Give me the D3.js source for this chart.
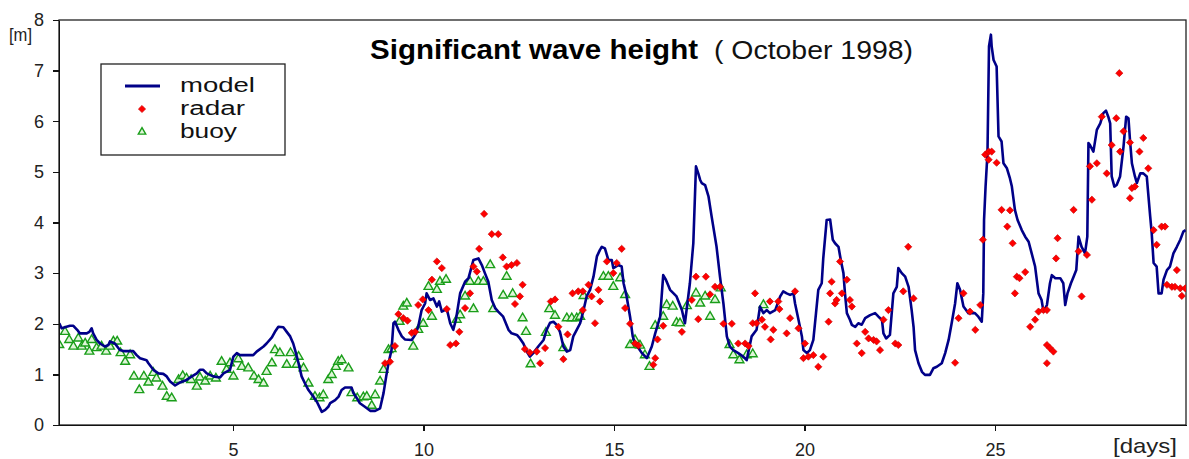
<!DOCTYPE html>
<meta charset="utf-8">
<head>
<style>
body { margin: 0; background: #fff; font-family: "Liberation Sans", Arial, sans-serif; }
.axis text { font: 18px "Liberation Sans", Arial, sans-serif; fill: #222; }
.axis path, .axis line { fill: none; stroke: #111; stroke-width: 1.4; shape-rendering: crispEdges; }
</style>
</head>
<body>
<script src="https://d3js.org/d3.v7.min.js"></script>
<script>

// model run, [day, Hs in m]
var model = [
  [0.44,2.01],[0.50,1.91],[0.72,1.96],[0.81,1.96],[0.91,1.88],[0.98,1.81],[1.16,1.81],[1.23,1.84],[1.29,1.91],[1.33,1.81],
  [1.42,1.68],[1.51,1.61],[1.64,1.55],[1.73,1.58],[1.77,1.65],[1.90,1.61],[2.03,1.48],[2.12,1.46],[2.38,1.46],[2.47,1.38],
  [2.56,1.32],[2.73,1.28],[2.78,1.22],[2.91,1.09],[3.04,1.02],[3.17,1.01],[3.26,0.96],[3.35,0.86],[3.48,0.78],[3.61,0.84],
  [3.78,0.89],[3.92,0.96],[4.05,1.02],[4.13,1.09],[4.22,1.09],[4.31,1.02],[4.48,0.96],[4.66,0.94],[4.75,1.02],[4.92,1.09],
  [5.01,1.35],[5.10,1.42],[5.18,1.38],[5.53,1.38],[5.62,1.45],[5.80,1.55],[5.88,1.61],[6.02,1.73],[6.10,1.84],[6.19,1.94],
  [6.32,1.93],[6.41,1.84],[6.50,1.75],[6.58,1.61],[6.63,1.48],[6.72,1.22],[6.80,0.96],[6.89,0.82],[6.98,0.69],[7.11,0.56],
  [7.20,0.46],[7.33,0.26],[7.42,0.30],[7.50,0.36],[7.55,0.43],[7.68,0.49],[7.77,0.56],[7.85,0.69],[7.94,0.74],[8.11,0.74],
  [8.16,0.63],[8.25,0.53],[8.33,0.43],[8.46,0.36],[8.60,0.28],[8.73,0.28],[8.86,0.33],
  [8.95,0.63],[9.02,0.96],[9.08,1.22],[9.16,1.48],[9.21,2.01],[9.25,2.04],[9.34,1.88],[9.43,1.75],[9.51,1.69],[9.69,1.68],
  [9.78,1.78],[9.86,1.94],[9.95,2.27],[10.04,2.40],[10.08,2.60],[10.17,2.47],[10.26,2.50],[10.35,2.34],[10.41,2.44],[10.48,2.24],
  [10.61,2.29],[10.70,2.01],[10.78,1.88],[10.85,2.08],[10.96,2.60],[11.09,2.83],[11.18,2.90],[11.31,3.26],[11.44,3.29],[11.53,3.16],
  [11.61,3.00],[11.70,2.83],[11.79,2.47],[11.88,2.31],[11.96,2.24],[12.09,2.14],[12.23,1.88],[12.31,1.81],[12.45,1.78],[12.53,1.71],
  [12.62,1.61],[12.71,1.45],[12.79,1.35],[12.88,1.42],[13.01,1.55],[13.15,1.68],[13.23,1.88],[13.32,2.02],[13.41,2.04],[13.49,1.98],
  [13.58,1.84],[13.67,1.55],[13.76,1.45],[13.85,1.48],[13.93,1.75],[14.02,1.88],[14.11,2.01],[14.20,2.27],[14.28,2.54],[14.37,2.67],
  [14.46,2.93],[14.55,3.33],[14.63,3.46],[14.68,3.52],[14.76,3.49],[14.85,3.26],[14.94,3.26],[14.98,3.10],[15.11,3.16],[15.20,3.13],
  [15.25,2.80],[15.33,2.54],[15.42,2.14],[15.49,1.75],[15.55,1.61],[15.64,1.52],[15.73,1.42],[15.86,1.32],[15.99,1.55],[16.08,1.81],
  [16.21,2.14],[16.29,2.96],[16.36,2.87],[16.47,2.67],[16.64,2.54],[16.78,2.27],[16.86,2.01],[16.99,2.80],[17.08,3.59],[17.15,5.11],
  [17.21,4.97],[17.26,4.84],[17.30,4.78],[17.39,4.74],[17.48,4.51],[17.56,4.12],[17.69,3.52],[17.78,2.93],[17.87,2.40],[17.96,1.75],
  [18.04,1.55],[18.13,1.48],[18.26,1.42],[18.39,1.35],[18.48,1.28],[18.61,1.75],[18.74,1.88],[18.83,2.34],[18.92,2.21],[19.01,2.27],
  [19.09,2.21],[19.23,2.27],[19.36,2.54],
  [19.44,2.64],[19.53,2.60],[19.62,2.57],[19.71,2.60],[19.75,2.40],[19.84,2.08],[19.93,1.75],[19.97,1.48],[20.06,1.42],[20.14,1.48],
  [20.23,1.68],[20.30,2.21],[20.36,2.67],[20.45,2.80],[20.49,3.29],[20.58,4.05],[20.67,4.06],[20.74,3.66],[20.80,3.59],[20.89,3.52],
  [20.95,3.26],[21.02,3.00],[21.06,2.60],[21.11,2.21],[21.19,2.08],[21.24,1.98],[21.33,1.94],[21.41,2.01],[21.50,1.98],[21.59,2.11],
  [21.72,2.17],[21.85,2.21],[21.94,2.14],[22.03,2.08],[22.07,1.81],[22.14,1.71],[22.24,1.78],[22.33,2.60],[22.42,2.73],[22.46,3.10],
  [22.55,3.00],[22.64,2.93],[22.73,2.73],[22.81,2.27],[22.86,1.94],[22.90,1.48],[22.99,1.22],[23.08,1.05],[23.16,0.99],[23.29,0.99],
  [23.38,1.12],[23.47,1.15],[23.60,1.22],[23.69,1.42],[23.78,1.68],[23.86,2.01],[23.95,2.40],[24.01,2.80],[24.08,2.67],[24.17,2.34],
  [24.30,2.21],[24.47,2.21],[24.56,2.14],[24.65,2.04],[24.69,2.60],[24.71,4.05],[24.75,4.71],[24.80,5.37],[24.84,7.48],[24.89,7.71],
  [24.91,7.48],[24.96,7.21],[25.04,7.08],[25.09,5.70],[25.17,5.60],[25.22,5.17],[25.31,5.07],[25.39,4.87],[25.44,4.71],[25.52,4.25],
  [25.59,4.05],[25.70,3.85],[25.79,3.72],[25.88,3.62],[25.96,3.39],[26.05,3.13],[26.14,2.60],[26.22,2.47],[26.27,2.24],[26.36,2.37],
  [26.44,2.80],[26.49,2.96],[26.58,2.90],[26.71,2.90],[26.79,2.80],[26.84,2.37],[26.90,2.60],[26.99,2.80],[27.06,2.93],[27.13,3.06],
  [27.19,3.72],[27.27,3.52],[27.36,3.39],[27.42,3.72],[27.45,5.57],[27.49,5.53],[27.58,5.40],[27.67,5.83],[27.76,5.96],[27.84,6.16],
  [27.91,6.21],[27.97,6.09],[28.02,5.96],[28.06,4.91],[28.13,4.71],[28.19,4.74],[28.28,4.91],[28.37,5.50],[28.44,6.09],[28.50,6.06],
  [28.54,5.63],[28.59,5.17],[28.67,4.91],[28.72,4.78],[28.81,4.97],[28.89,4.97],[28.98,4.91],[29.07,4.12],[29.11,3.79],[29.16,3.20],
  [29.24,3.13],[29.29,2.60],[29.37,2.60],[29.42,2.87],[29.51,3.06],[29.59,3.13],[29.68,3.39],[29.77,3.52],[29.86,3.66],[29.94,3.82],
  [30.00,3.85]
];

// radar measurements
var radar = [
  [8.99,1.22],[9.12,1.25],[9.25,1.56],[9.34,2.19],[9.47,2.11],[9.58,2.06],[9.69,1.82],[9.78,1.84],[9.86,2.37],[9.98,2.48],
  [10.13,2.27],[10.22,2.87],[10.35,3.23],[10.48,3.10],[10.61,2.29],[10.70,1.58],[10.85,1.61],[10.94,1.84],[11.09,2.31],[11.22,2.60],
  [11.31,3.13],[11.40,3.03],[11.46,3.48],[11.59,4.17],[11.79,3.77],[11.96,3.77],[12.08,3.31],[12.18,3.13],[12.31,3.16],[12.45,3.20],
  [12.40,2.39],[12.53,2.54],[12.60,2.77],[12.66,1.50],[12.79,1.43],[12.97,1.45],[13.06,1.22],[13.19,1.52],[13.34,2.44],[13.45,2.48],
  [13.54,1.94],[13.67,1.30],[13.78,1.79],[13.91,2.60],[14.06,2.64],[14.18,2.64],[14.18,2.27],[14.33,2.77],[14.41,2.54],[14.50,2.01],
  [14.59,2.67],[14.63,2.44],[14.81,3.23],[14.98,3.00],[15.07,3.20],[15.20,3.48],[15.29,2.31],[15.42,2.00],[15.55,1.61],[15.64,1.57],
  [16.03,1.19],[16.08,1.32],[16.14,1.69],[16.29,1.96],[16.78,1.84],[17.04,2.47],[17.15,2.93],[17.21,2.09],[17.41,2.93],[17.52,2.58],
  [17.65,2.73],[17.78,2.73],[17.87,2.00],[18.09,2.00],[18.26,1.61],[18.44,1.61],[18.53,1.56],[18.64,2.01],[18.70,2.60],[18.74,2.01],
  [18.88,2.08],[18.96,1.94],[19.09,2.44],[19.11,1.69],[19.18,1.88],[19.31,2.44],[19.34,2.29],
  [19.53,1.81],[19.62,2.11],[19.75,2.64],[19.84,1.91],[19.97,1.32],[20.01,1.61],[20.10,1.35],[20.23,1.38],[20.36,1.15],[20.49,1.35],
  [20.63,2.04],[20.67,2.60],[20.71,2.83],[20.80,2.40],[20.84,2.47],[20.93,3.23],[20.98,2.60],[21.11,2.87],[21.19,2.47],[21.24,2.34],
  [21.37,1.61],[21.50,1.42],[21.59,1.84],[21.68,1.71],[21.81,1.68],[21.89,1.65],[21.98,1.48],[22.07,2.08],[22.20,2.27],[22.38,1.61],
  [22.46,1.58],[22.59,2.64],[22.72,3.52],[22.86,2.50],[23.95,1.23],[24.04,2.11],[24.17,2.60],[24.34,2.24],[24.48,1.88],[24.61,2.37],
  [24.68,3.66],[24.74,5.34],[24.83,5.40],[24.91,5.40],[24.83,5.24],[25.04,5.18],[25.17,4.25],[25.32,3.92],[25.39,4.24],[25.46,3.59],
  [25.52,2.60],[25.57,2.93],[25.64,2.90],[25.79,3.02],[25.92,1.94],[26.05,2.08],[26.14,2.24],[26.27,2.27],[26.36,2.27],[26.36,1.58],
  [26.44,1.52],[26.53,1.45],[26.36,1.22],[26.60,3.29],[26.64,3.69],[27.06,4.25],[27.19,3.43],[27.27,2.54],[27.41,3.36],[27.49,5.11],
  [27.54,4.45],[27.67,5.17],[27.80,6.09],[27.93,4.97],[28.06,5.53],[28.18,6.06],[28.26,6.95],[28.28,5.40],[28.37,5.80],[28.54,5.58],
  [28.54,4.48],[28.59,4.68],[28.67,4.71],[28.79,5.40],[28.89,5.67],[29.02,5.07],[29.16,3.85],[29.24,3.56],[29.37,3.92],[29.46,3.92],
  [29.51,2.77],[29.64,2.73],[29.72,2.73],[29.77,3.06],[29.86,2.70],[29.90,2.55],[29.99,2.70]
];

// buoy measurements
var buoy = [
  [0.44,1.58],[0.59,1.84],[0.70,1.68],[0.81,1.55],[0.94,1.71],[1.03,1.55],[1.12,1.61],[1.23,1.45],[1.29,1.68],[1.42,1.52],
  [1.55,1.55],[1.67,1.45],[1.77,1.55],[1.86,1.65],[1.96,1.65],[2.05,1.42],[2.17,1.25],[2.30,1.38],[2.40,0.96],[2.54,0.69],
  [2.66,0.96],[2.78,0.84],[2.91,1.03],[2.99,0.92],[3.15,0.76],[3.26,0.56],[3.39,0.53],[3.57,0.89],[3.68,0.97],[3.78,0.92],
  [3.90,0.89],[4.05,0.76],[4.13,0.94],[4.27,0.86],[4.40,0.96],[4.55,0.92],[4.70,1.25],[4.83,1.09],[4.92,1.22],[5.01,0.96],
  [5.14,1.30],[5.23,1.15],[5.40,1.12],[5.55,0.96],[5.67,0.89],[5.80,0.82],[5.88,1.05],[6.02,1.22],[6.10,1.48],[6.23,1.42],
  [6.41,1.19],[6.51,1.42],[6.67,1.19],[6.72,1.35],[6.85,1.12],[6.98,0.82],[7.15,0.56],[7.27,0.53],[7.37,0.59],[7.50,0.89],
  [7.59,0.99],[7.70,1.15],[7.76,1.25],[7.85,1.28],[8.03,1.12],[8.11,0.63],[8.26,0.53],[8.42,0.55],[8.51,0.56],[8.64,0.38],
  [8.73,0.59],[8.86,0.86],[8.95,1.09],[9.08,1.48],[9.16,1.50],[9.37,2.04],[9.47,2.34],[9.56,2.40],[9.73,1.55],[9.86,1.88],
  [9.99,2.00],[10.13,2.73],[10.22,2.14],[10.35,2.67],[10.43,2.83],[10.59,2.87],[10.87,2.08],[10.96,2.17],[11.09,2.54],[11.22,2.83],
  [11.31,2.29],[11.44,2.83],[11.57,2.83],[11.75,3.16],[11.83,2.29],[12.09,2.56],[12.18,2.93],[12.34,2.59],[12.60,2.11],[12.69,1.84],
  [12.81,1.20],[13.21,1.82],[13.30,2.29],[13.45,2.16],[13.67,1.52],[13.76,2.11],[13.89,2.11],[14.02,2.11],[14.11,2.14],[14.20,2.55],
  [14.72,2.93],[14.85,2.93],[14.98,2.73],[15.16,2.90],[15.29,2.57],[15.42,1.58],[15.55,1.68],[15.68,1.57],[15.81,1.38],[15.93,1.15],
  [16.08,1.96],[16.29,2.14],[16.38,2.37],[16.54,2.34],[16.64,2.02],[16.73,2.01],[16.91,2.35],[17.15,2.60],[17.26,2.40],[17.39,2.54],
  [17.52,2.14],[17.65,2.47],[17.80,2.70],[18.03,1.58],[18.13,1.38],[18.29,1.28],[18.48,1.38],[18.64,1.40],[18.92,2.37]
];

var xTicks = [5, 10, 15, 20, 25];
var yTicks = [0, 1, 2, 3, 4, 5, 6, 7, 8];

var W = 1189, H = 459;
var margin = { top: 20, right: 3, bottom: 34, left: 59 };
var width = W - margin.left - margin.right,
    height = H - margin.top - margin.bottom;

var svg = d3.select("body").append("svg")
    .attr("width", W)
    .attr("height", H);

var g = svg.append("g")
    .attr("transform", "translate(" + margin.left + "," + margin.top + ")");

var x = d3.scaleLinear().domain([0.433, 30.01]).range([0, width]);
var y = d3.scaleLinear().domain([0, 8]).range([height, 0]);

// frame
g.append("rect")
    .attr("width", width)
    .attr("height", height)
    .attr("fill", "none")
    .attr("stroke", "#222")
    .attr("stroke-width", 1.3);

var clip = g.append("clipPath").attr("id", "clip")
    .append("rect").attr("width", width).attr("height", height);

var plot = g.append("g").attr("clip-path", "url(#clip)");

var tri = d3.symbol().type(d3.symbolTriangle).size(34);
var dia = d3.symbol().type(d3.symbolSquare).size(26);

// buoy triangles
plot.selectAll(".buoy")
    .data(buoy)
  .enter().append("path")
    .attr("class", "buoy")
    .attr("d", tri)
    .attr("transform", function(d) { return "translate(" + x(d[0]) + "," + y(d[1]) + ")"; })
    .attr("fill", "#dff5d8")
    .attr("stroke", "#1a9e1a")
    .attr("stroke-width", 1.4);

// model line
var line = d3.line()
    .x(function(d) { return x(d[0]); })
    .y(function(d) { return y(d[1]); });

plot.append("path")
    .datum(model)
    .attr("d", line)
    .attr("fill", "none")
    .attr("stroke", "#000088")
    .attr("stroke-width", 2.6)
    .attr("stroke-linejoin", "round");

// radar diamonds
plot.selectAll(".radar")
    .data(radar)
  .enter().append("path")
    .attr("class", "radar")
    .attr("d", dia)
    .attr("transform", function(d) { return "translate(" + x(d[0]) + "," + y(d[1]) + ") rotate(45)"; })
    .attr("fill", "#ff0000")
    .attr("stroke", "#c80000")
    .attr("stroke-width", 0.6);

// axes
g.append("g")
    .attr("class", "axis")
    .attr("transform", "translate(0," + height + ")")
    .call(d3.axisBottom(x).tickValues(xTicks).tickSize(6).tickSizeOuter(0).tickPadding(12));

g.append("g")
    .attr("class", "axis")
    .call(d3.axisLeft(y).tickValues(yTicks).tickSize(6).tickSizeOuter(0).tickPadding(9));

// unit labels
svg.append("text")
    .attr("x", 9).attr("y", 41)
    .attr("textLength", 23).attr("lengthAdjust", "spacingAndGlyphs")
    .style("font", "18px 'Liberation Sans', Arial, sans-serif")
    .attr("fill", "#222")
    .text("[m]");

svg.append("text")
    .attr("x", 1113).attr("y", 453)
    .attr("textLength", 64).attr("lengthAdjust", "spacingAndGlyphs")
    .style("font", "21px 'Liberation Sans', Arial, sans-serif")
    .attr("fill", "#222")
    .text("[days]");

// title
svg.append("text")
    .attr("x", 370).attr("y", 59)
    .style("font", "bold 27px 'Liberation Sans', Arial, sans-serif")
    .attr("textLength", 328).attr("lengthAdjust", "spacingAndGlyphs")
    .attr("fill", "#000")
    .text("Significant wave height");

svg.append("text")
    .attr("x", 714).attr("y", 59)
    .style("font", "26px 'Liberation Sans', Arial, sans-serif")
    .attr("textLength", 199).attr("lengthAdjust", "spacingAndGlyphs")
    .attr("fill", "#111")
    .text("( October 1998)");

// legend
var legend = svg.append("g");

legend.append("rect")
    .attr("x", 101).attr("y", 64)
    .attr("width", 184).attr("height", 91)
    .attr("fill", "#fff")
    .attr("stroke", "#222")
    .attr("stroke-width", 1.3);

legend.append("line")
    .attr("x1", 125).attr("x2", 160)
    .attr("y1", 86).attr("y2", 86)
    .attr("stroke", "#000088")
    .attr("stroke-width", 3);

legend.append("path")
    .attr("d", dia)
    .attr("transform", "translate(142,109) rotate(45)")
    .attr("fill", "#ff0000")
    .attr("stroke", "#c80000")
    .attr("stroke-width", 0.6);

legend.append("path")
    .attr("d", d3.symbol().type(d3.symbolTriangle).size(24))
    .attr("transform", "translate(142,132)")
    .attr("fill", "#dff5d8")
    .attr("stroke", "#1a9e1a")
    .attr("stroke-width", 1.4);

var labels = [["model", 92, 75], ["radar", 115, 65], ["buoy", 138, 57]];
legend.selectAll(".lab")
    .data(labels)
  .enter().append("text")
    .attr("class", "lab")
    .attr("x", 180)
    .attr("y", function(d) { return d[1]; })
    .attr("textLength", function(d) { return d[2]; })
    .attr("lengthAdjust", "spacingAndGlyphs")
    .style("font", "20px 'Liberation Sans', Arial, sans-serif")
    .attr("fill", "#111")
    .text(function(d) { return d[0]; });

</script>
</body>
